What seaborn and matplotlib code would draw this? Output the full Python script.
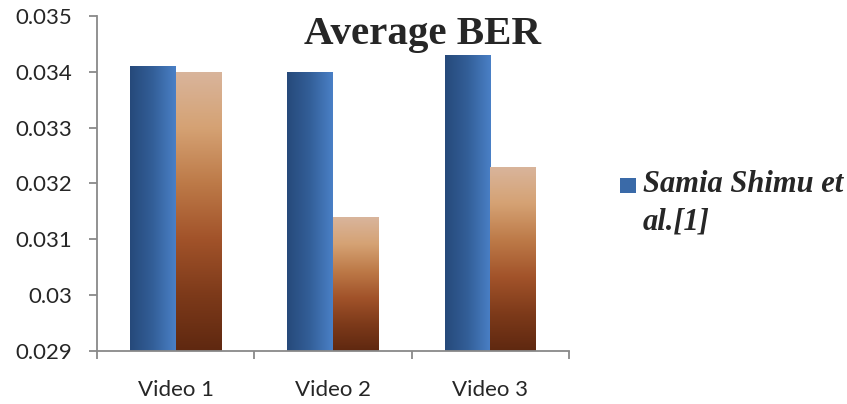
import numpy as np
import pandas as pd
import matplotlib
matplotlib.use("Agg")
import matplotlib.pyplot as plt
from matplotlib.colors import LinearSegmentedColormap
from matplotlib.patches import Rectangle
import seaborn as sns

# Average bit error rate per test video
videos = ["Video 1", "Video 2", "Video 3"]
samia_ber = [0.0341, 0.0340, 0.0343]
proposed_ber = [0.0340, 0.0314, 0.0323]
series_names = ["Samia Shimu et al.[1]", "Proposed"]
y_ticks = [0.029, 0.030, 0.031, 0.032, 0.033, 0.034, 0.035]
y_tick_labels = ["0.029", "0.03", "0.031", "0.032", "0.033", "0.034", "0.035"]

df = pd.DataFrame({
    "video": videos * 2,
    "ber": samia_ber + proposed_ber,
    "series": [series_names[0]] * 3 + [series_names[1]] * 3,
})

sns.set_style("white")
plt.rcParams["font.family"] = ["Lato", "DejaVu Sans"]

fig = plt.figure(figsize=(8.47, 4.04), dpi=100)
ax = fig.add_axes([0.1145, 0.1312, 0.5573, 0.8292])

blue_cmap = LinearSegmentedColormap.from_list("blue", ["#26497a", "#335f98", "#4a80c6"])
brown_cmap = LinearSegmentedColormap.from_list(
    "brown", ["#d9b59c", "#d5a274", "#bd7a48", "#a2532a", "#7d3a1a", "#5f2810"])

sns.barplot(data=df, x="video", y="ber", hue="series",
            palette=["#3a6aa8", "#b8743f"], width=0.58,
            saturation=1, legend=False, ax=ax)

ymin, ymax = 0.029, 0.035
ax.set_ylim(ymin, ymax)
ax.set_xlim(-0.5, 2.5)

# Gradient fills: blue shades left-to-right, brown shades top-to-bottom
for i, bar in enumerate(ax.patches):
    x0 = bar.get_x()
    x1 = x0 + bar.get_width()
    top = bar.get_y() + bar.get_height()
    if i < 3:
        grad = np.linspace(0, 1, 256).reshape(1, -1)
        cmap = blue_cmap
    else:
        grad = np.linspace(0, 1, 256).reshape(-1, 1)
        cmap = brown_cmap
    im = ax.imshow(grad, cmap=cmap, aspect="auto", extent=[x0, x1, ymin, top],
                   origin="upper" if i >= 3 else "lower", zorder=bar.get_zorder() + 0.1,
                   interpolation="bilinear")
    im.set_clip_path(bar)

ax.set_xlim(-0.5, 2.5)
ax.set_ylim(ymin, ymax)

axis_grey = "#898989"
for side in ["top", "right"]:
    ax.spines[side].set_visible(False)
for side in ["left", "bottom"]:
    ax.spines[side].set_color(axis_grey)
    ax.spines[side].set_linewidth(1.3)

ax.set_yticks(y_ticks)
ax.set_yticklabels(y_tick_labels)
ax.set_xticks(range(len(videos)))
ax.set_xticklabels(videos)
ax.set_xticks([-0.5, 0.5, 1.5, 2.5], minor=True)
ax.tick_params(axis="y", direction="out", length=6, width=1.3, color=axis_grey,
               labelsize=16, pad=12, left=True)
ax.tick_params(axis="x", which="major", length=0, labelsize=16, pad=21, bottom=True)
ax.tick_params(axis="x", which="minor", direction="out", length=6, width=1.3,
               color=axis_grey, bottom=True)
ax.set_xlabel("")
ax.set_ylabel("")

fig.text(0.499, 0.914, "Average BER", ha="center", va="center",
         family="Liberation Serif", fontweight="bold", fontsize=29.5)

# Legend entry for the first series
fig.patches.append(Rectangle((620 / 847, 1 - 193 / 404), 16 / 847, 15 / 404,
                             transform=fig.transFigure, figure=fig,
                             facecolor="#3a6aa8", edgecolor="none"))
fig.text(643 / 847, 1 - 170 / 404, "Samia Shimu et\nal.[1]", ha="left", va="top",
         family="Liberation Serif", fontweight="bold", style="italic",
         fontsize=22, linespacing=1.4)

fig.savefig("out.png", dpi=100)
